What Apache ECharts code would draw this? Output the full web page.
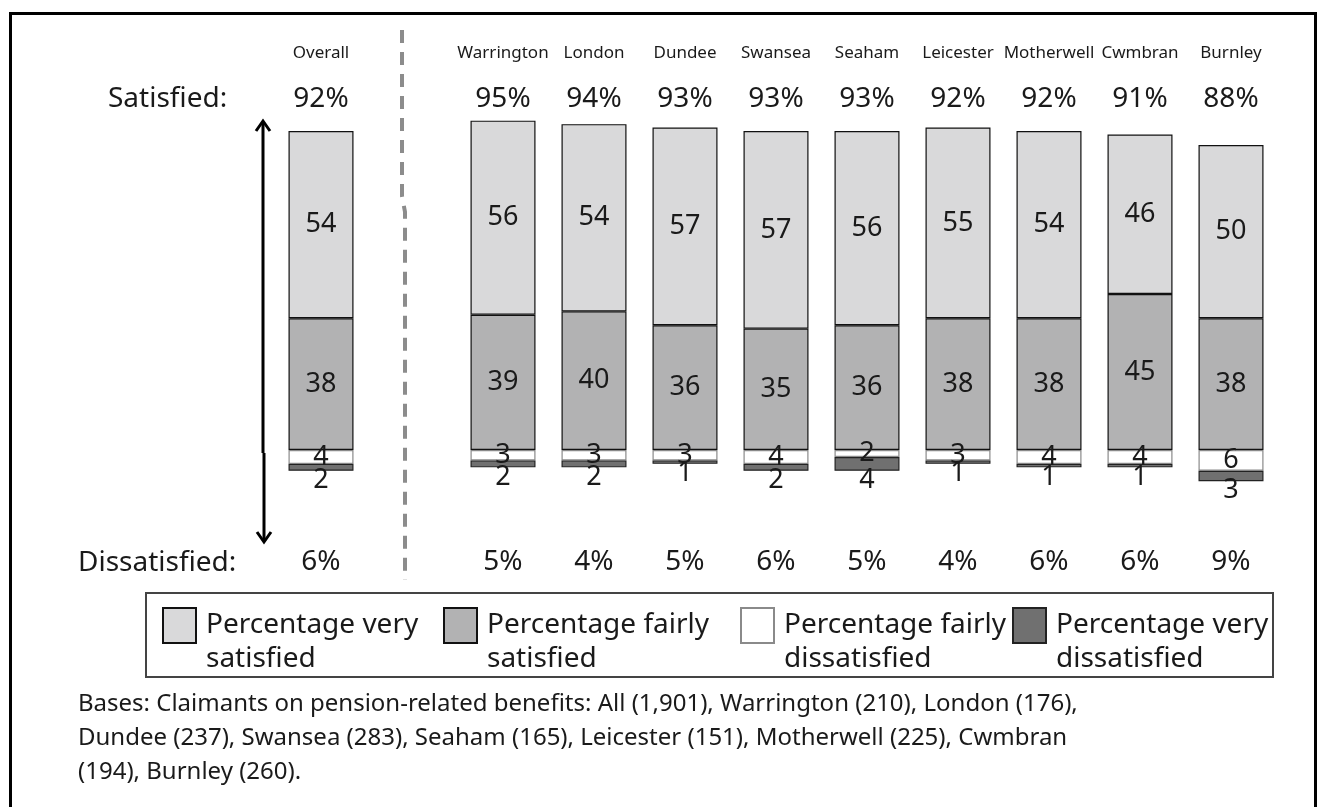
<!DOCTYPE html>
<html>
<head>
<meta charset="utf-8">
<title>Satisfaction by site</title>
<script src="https://cdn.jsdelivr.net/npm/echarts@6/dist/echarts.min.js"></script>
<style>
  html, body {
    margin: 0;
    padding: 0;
    background: #fff;
  }
  #chart {
    width: 1325px;
    height: 807px;
  }
</style>
</head>
<body>
<div id="chart"></div>
<script>
// empty slot after "Overall" leaves room for the dashed divider
const categories = ['Overall', '', 'Warrington', 'London', 'Dundee', 'Swansea', 'Seaham', 'Leicester', 'Motherwell', 'Cwmbran', 'Burnley']
const verySatisfied = [54, null, 56, 54, 57, 57, 56, 55, 54, 46, 50]
const fairlySatisfied = [38, null, 39, 40, 36, 35, 36, 38, 38, 45, 38]
const fairlyDissatisfied = [4, null, 3, 3, 3, 4, 2, 3, 4, 4, 6]
const veryDissatisfied = [2, null, 2, 2, 1, 2, 4, 1, 1, 1, 3]
const satisfiedTotal = ['92%', '', '95%', '94%', '93%', '93%', '93%', '92%', '92%', '91%', '88%']
const dissatisfiedTotal = ['6%', '', '5%', '4%', '5%', '6%', '5%', '4%', '6%', '6%', '9%']

const seriesNames = [
  'Percentage very satisfied',
  'Percentage fairly satisfied',
  'Percentage fairly dissatisfied',
  'Percentage very dissatisfied'
]
const legendLeft = [162, 443, 740, 1012]

const FONT = 'Noto Sans'
const TEXT = '#1a1a1a'

const negate = arr => arr.map(v => (v == null ? null : -v))

const valueLabel = (position, distance) => ({
  show: true,
  position: position,
  distance: distance,
  fontSize: 27,
  color: TEXT,
  formatter: p => Math.abs(p.value)
})

const chart = echarts.init(document.getElementById('chart'))

const options = {
  animation: false,
  textStyle: {
    fontFamily: FONT
  },
  title: {
    text: 'Bases: Claimants on pension-related benefits: All (1,901), Warrington (210), London (176),\n' +
      'Dundee (237), Swansea (283), Seaham (165), Leicester (151), Motherwell (225), Cwmbran\n' +
      '(194), Burnley (260).',
    left: 78,
    top: 687,
    padding: 0,
    textStyle: {
      fontFamily: FONT,
      fontSize: 24,
      fontWeight: 'normal',
      lineHeight: 34,
      color: TEXT
    }
  },
  // one legend per item so each sits where the original puts it;
  // the leading blank line pushes the two text lines down level with the swatch top
  legend: seriesNames.map((name, i) => ({
    data: [name],
    left: legendLeft[i],
    top: 574.5,
    padding: 0,
    icon: 'rect',
    itemWidth: 33,
    itemHeight: 35,
    selectedMode: false,
    formatter: n => '\n' + n.replace(/ (\w+)$/, '\n$1'),
    textStyle: {
      fontFamily: FONT,
      fontSize: 28,
      lineHeight: 34,
      color: TEXT,
      padding: [0, 0, 0, 5]
    }
  })),
  grid: {
    left: 275.5,
    right: 48.5,
    top: 68.67,
    height: 468
  },
  xAxis: [{
    type: 'category',
    data: categories,
    position: 'top',
    axisLine: { show: false },
    axisTick: { show: false },
    axisLabel: {
      interval: 0,
      margin: 7,
      fontSize: 17,
      color: TEXT
    }
  }, {
    type: 'category',
    data: satisfiedTotal,
    position: 'top',
    axisLine: { show: false },
    axisTick: { show: false },
    axisLabel: {
      interval: 0,
      inside: true,
      margin: 16,
      fontSize: 28,
      color: TEXT
    }
  }, {
    type: 'category',
    data: dissatisfiedTotal,
    position: 'bottom',
    axisLine: { show: false },
    axisTick: { show: false },
    axisLabel: {
      interval: 0,
      margin: 11,
      fontSize: 28,
      color: TEXT
    }
  }],
  yAxis: {
    type: 'value',
    min: -25,
    max: 110,
    show: false
  },
  series: [{
    name: seriesNames[1],
    type: 'bar',
    stack: 'all',
    barWidth: 65,
    data: fairlySatisfied,
    itemStyle: { color: '#b2b2b3', borderColor: '#111', borderWidth: 1.2 },
    label: valueLabel('inside', 0)
  }, {
    name: seriesNames[0],
    type: 'bar',
    stack: 'all',
    barWidth: 65,
    data: verySatisfied,
    itemStyle: { color: '#d9d9da', borderColor: '#111', borderWidth: 1.2 },
    label: valueLabel('inside', 0)
  }, {
    name: seriesNames[2],
    type: 'bar',
    stack: 'all',
    barWidth: 65,
    data: negate(fairlyDissatisfied),
    itemStyle: { color: '#ffffff', borderColor: '#8a8a8a', borderWidth: 1.2 },
    label: valueLabel('inside', 0)
  }, {
    name: seriesNames[3],
    type: 'bar',
    stack: 'all',
    barWidth: 65,
    data: negate(veryDissatisfied),
    itemStyle: { color: '#707070', borderColor: '#222', borderWidth: 1.2 },
    label: valueLabel('bottom', -4)
  }],
  graphic: [{
    // outer frame
    type: 'rect',
    shape: { x: 10.5, y: 13.5, width: 1305, height: 810 },
    style: { fill: null, stroke: '#000', lineWidth: 3 }
  }, {
    // divider between Overall and the sites
    type: 'polyline',
    shape: { points: [[402, 30], [402, 196], [405, 212], [405, 580]] },
    style: { fill: null, stroke: '#8c8c8c', lineWidth: 4, lineDash: [13, 9] }
  }, {
    type: 'polyline',
    shape: { points: [[263, 453], [263, 122]] },
    style: { fill: null, stroke: '#000', lineWidth: 3 }
  }, {
    type: 'polyline',
    shape: { points: [[256, 131], [263, 121], [270, 131]] },
    style: { fill: null, stroke: '#000', lineWidth: 3 }
  }, {
    type: 'polyline',
    shape: { points: [[264, 453], [264, 541]] },
    style: { fill: null, stroke: '#000', lineWidth: 3 }
  }, {
    type: 'polyline',
    shape: { points: [[257, 532], [264, 542], [271, 532]] },
    style: { fill: null, stroke: '#000', lineWidth: 3 }
  }, {
    type: 'text',
    left: 108,
    top: 85,
    style: { text: 'Satisfied:', font: '28px "Noto Sans"', fill: TEXT }
  }, {
    type: 'text',
    left: 78,
    top: 549,
    style: { text: 'Dissatisfied:', font: '28px "Noto Sans"', fill: TEXT }
  }, {
    // legend frame
    type: 'rect',
    shape: { x: 146, y: 593, width: 1127, height: 84 },
    style: { fill: null, stroke: '#444', lineWidth: 2 }
  }]
}

chart.setOption(options)
</script>
</body>
</html>
